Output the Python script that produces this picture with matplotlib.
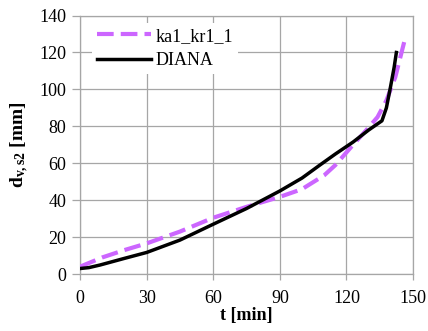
import matplotlib
matplotlib.use('Agg')
import matplotlib.pyplot as plt

# Deflection d_v,s2 over time: ka1_kr1_1 model vs DIANA
t_ka1 = [0, 10, 20, 30, 45, 60, 75, 90, 100, 110, 115, 123, 129, 134, 138, 142, 144.3, 146.3]
d_ka1 = [4, 9, 13, 16.6, 23, 30.5, 36.4, 41.8, 46, 53.5, 59, 70, 78, 85, 94, 106.6, 117.5, 127]

t_diana = [0, 4, 9, 20, 30, 45, 60, 75, 90, 100, 108, 115, 123, 130, 136, 138, 139.8, 141.5, 142.5]
d_diana = [3, 3.5, 4.9, 8.5, 11.7, 18.4, 27, 35.5, 45, 52, 59, 65, 71.5, 78, 83, 90, 101, 112, 120]

x_ticks = [0, 30, 60, 90, 120, 150]
y_ticks = [0, 20, 40, 60, 80, 100, 120, 140]

plt.rcParams['font.family'] = ['Liberation Serif']
plt.rcParams['mathtext.fontset'] = 'custom'
plt.rcParams['mathtext.rm'] = 'Liberation Serif'
plt.rcParams['mathtext.bf'] = 'Liberation Serif:bold'
plt.rcParams['mathtext.it'] = 'Liberation Serif:italic'

grid_col = '#a6a6a6'

fig = plt.figure(figsize=(4.28, 3.31), dpi=100)
ax = fig.add_axes([0.187, 0.172, 0.778, 0.781])

ax.plot(t_ka1, d_ka1, color='#cc66ff', lw=3, dashes=(4, 1.7),
        label='ka1_kr1_1', zorder=3)
ax.plot(t_diana, d_diana, color='black', lw=2.5,
        label='DIANA', zorder=4)

ax.set_xlim(0, 150)
ax.set_ylim(0, 140)
ax.set_xticks(x_ticks)
ax.set_yticks(y_ticks)
ax.grid(True, color=grid_col, lw=0.9)
ax.set_axisbelow(True)
for side in ax.spines:
    ax.spines[side].set_color(grid_col)
    ax.spines[side].set_linewidth(0.9)
ax.tick_params(axis='y', length=6, width=0.9, color=grid_col, pad=4, labelsize=13)
ax.tick_params(axis='x', length=4.5, width=0.9, color=grid_col, pad=7, labelsize=13)

ax.set_xlabel('t [min]', fontsize=13, fontweight='bold', labelpad=0)
ax.set_ylabel(r'$\mathbf{d_{v,s2}}$ [mm]', fontsize=14, fontweight='bold', labelpad=6)

leg = ax.legend(loc='upper left', bbox_to_anchor=(0.01, 1.005), fontsize=13,
                handlelength=3.0, handletextpad=0.25, labelspacing=0.4,
                borderpad=0.25, frameon=True, fancybox=False)
leg.get_frame().set_facecolor('white')
leg.get_frame().set_edgecolor('none')
leg.get_frame().set_alpha(1)

fig.savefig('out.png', dpi=100)
